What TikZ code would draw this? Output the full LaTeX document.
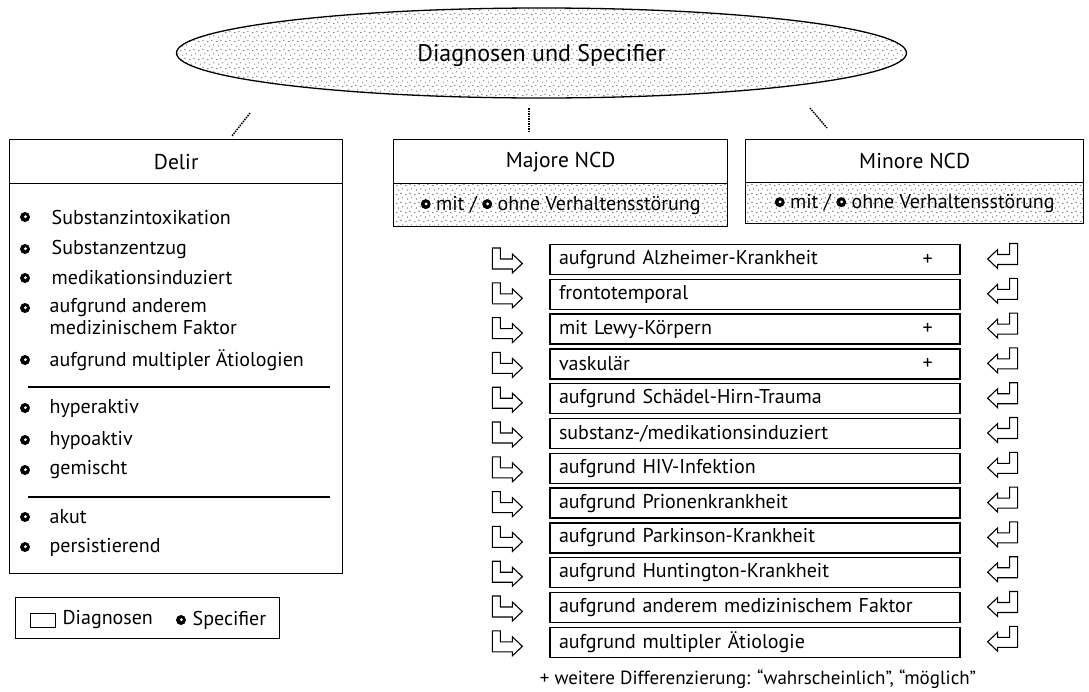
\documentclass[tikz,border=0pt]{standalone}
\usepackage{fontspec}
\setmainfont{PT Sans}
\usetikzlibrary{shapes.geometric,patterns,calc}

% sparse stipple used for the shaded areas
\pgfdeclarepatternformonly{sparsedots}{\pgfqpoint{0pt}{0pt}}{\pgfqpoint{9pt}{9pt}}{\pgfqpoint{9pt}{9pt}}{%
  \pgfpathcircle{\pgfqpoint{1pt}{1.5pt}}{0.6pt}
  \pgfpathcircle{\pgfqpoint{5.5pt}{3pt}}{0.6pt}
  \pgfpathcircle{\pgfqpoint{3pt}{6.5pt}}{0.6pt}
  \pgfpathcircle{\pgfqpoint{7.5pt}{7.8pt}}{0.6pt}
  \pgfusepath{fill}}

% specifier marker: black disc with a white spot
\newcommand\spcdot{\tikz[baseline=-0.6ex,x=1pt,y=1pt]{\fill (0,0) circle (5); \fill[white] (0.4,0.3) circle (1.6);}}

\begin{document}
\begin{tikzpicture}[x=1pt,y=-1pt,line width=1.3pt,
  box/.style={draw,rectangle,inner sep=0pt},
  shade/.style={pattern=sparsedots,pattern color=black!85},
  titlefont/.style={font=\fontsize{21.5}{24}\selectfont},
  itemfont/.style={font=\fontsize{20}{22}\selectfont},
  rowbox/.style={draw,rectangle,minimum width=410pt,minimum height=30pt,inner xsep=9pt,inner ysep=0pt,
    text width=392pt,align=left,font=\fontsize{20}{22}\selectfont},
  item/.style={anchor=west,inner sep=0pt,itemfont,align=left},
  marker/.style={circle,fill=black,minimum size=10pt,inner sep=0pt,
    path picture={\fill[white] ([xshift=0.4pt,yshift=0.3pt]path picture bounding box.center) circle (1.6pt);}},
  plus/.style={font=\fontsize{20}{22}\selectfont,inner sep=0pt},
  stub/.style={densely dotted,line width=1.5pt},
  arrowin/.pic={\draw[line width=1.1pt,line join=miter]
      (0,0) -- (8,0) -- (8,11) -- (20,11) -- (20,6) -- (30,15.5) -- (20,25) -- (20,21) -- (0,21) -- cycle;},
  arrowout/.pic={\draw[line width=1.1pt,line join=miter]
      (0,0) -- (-8,0) -- (-8,11) -- (-20,11) -- (-20,6) -- (-30,15.5) -- (-20,25) -- (-20,21) -- (0,21) -- cycle;}]

\useasboundingbox[fill=white] (0,0) rectangle (1089,691);

% top ellipse
\node[ellipse,draw,shade,minimum width=730pt,minimum height=90pt,inner sep=0pt] (top) at (541.5,53) {};
\node[font=\fontsize{24}{26}\selectfont] (toplabel) at (541.5,55) {Diagnosen und Specifier};

% short dotted connector stubs below the ellipse
\coordinate (s1a) at (250,113); \coordinate (s1b) at (232,136);
\coordinate (s2a) at (529,108); \coordinate (s2b) at (529,132);
\coordinate (s3a) at (810,108); \coordinate (s3b) at (827,128);
\draw[stub] (s1a) -- (s1b);
\draw[stub] (s2a) -- (s2b);
\draw[stub] (s3a) -- (s3b);

% Delir
\node[box,anchor=north west,minimum width=333pt,minimum height=44pt,titlefont] (delirhead) at (9,139) {Delir};
\node[box,anchor=north west,minimum width=333pt,minimum height=390pt] (delirbody) at (9,183) {};
\coordinate (d1a) at (28,387); \coordinate (d1b) at (330,387);
\coordinate (d2a) at (28,497); \coordinate (d2b) at (330,497);
\draw[line width=1.1pt] (d1a) -- (d1b);
\draw[line width=1.1pt] (d2a) -- (d2b);

\foreach \y/\n in {217/a,249/b,278/c,308/d,360/e,408/f,440/g,470/h,517/i,547/j}
  \node[marker] (m\n) at (25,\y) {};
\node[item] (ia) at (51,217) {Substanzintoxikation};
\node[item] (ib) at (51,249) {Substanzentzug};
\node[item] (ic) at (51,278) {medikationsinduziert};
\node[item,anchor=north west] (id) at (49,298) {aufgrund anderem\\medizinischem Faktor};
\node[item] (ie) at (49,360) {aufgrund multipler Ätiologien};
\node[item] (if) at (49,408) {hyperaktiv};
\node[item] (ig) at (49,440) {hypoaktiv};
\node[item] (ih) at (49,470) {gemischt};
\node[item] (ii) at (49,517) {akut};
\node[item] (ij) at (49,547) {persistierend};

% legend
\node[box,anchor=north west,minimum width=264pt,minimum height=41pt] (legend) at (15,597) {};
\node[box,line width=1.1pt,anchor=north west,minimum width=25pt,minimum height=14pt] (legrect) at (30,613) {};
\node[item] (legdiag) at (62,620) {Diagnosen};
\node[marker] (legmark) at (181,620) {};
\node[item] (legspec) at (192,620) {Specifier};

% Majore / Minore NCD
\node[box,anchor=north west,minimum width=334pt,minimum height=44pt,titlefont] (majhead) at (393,139) {Majore NCD};
\node[box,shade,anchor=north west,minimum width=334pt,minimum height=43pt] (majband) at (393,183) {};
\node[itemfont] (majspec) at (majband.center) {\spcdot{} mit / \spcdot{} ohne Verhaltensstörung};
\node[box,anchor=north west,minimum width=338pt,minimum height=43pt,titlefont] (minhead) at (745,139) {Minore NCD};
\node[box,shade,anchor=north west,minimum width=338pt,minimum height=41pt] (minband) at (745,182) {};
\node[itemfont] (minspec) at (minband.center) {\spcdot{} mit / \spcdot{} ohne Verhaltensstörung};

% subtypes
\node[rowbox] (r0) at (755,259.5) {aufgrund Alzheimer-Krankheit};
\node[rowbox] (r1) at (755,294.3) {frontotemporal};
\node[rowbox] (r2) at (755,329.1) {mit Lewy-Körpern};
\node[rowbox] (r3) at (755,363.9) {vaskulär};
\node[rowbox] (r4) at (755,398.7) {aufgrund Schädel-Hirn-Trauma};
\node[rowbox] (r5) at (755,433.5) {substanz-/medikationsinduziert};
\node[rowbox] (r6) at (755,468.3) {aufgrund HIV-Infektion};
\node[rowbox] (r7) at (755,503.1) {aufgrund Prionenkrankheit};
\node[rowbox] (r8) at (755,537.9) {aufgrund Parkinson-Krankheit};
\node[rowbox] (r9) at (755,572.7) {aufgrund Huntington-Krankheit};
\node[rowbox] (r10) at (755,607.5) {aufgrund anderem medizinischem Faktor};
\node[rowbox] (r11) at (755,642.3) {aufgrund multipler Ätiologie};

\foreach \k in {0,2,3}
  \node[plus] (p\k) at ($(r\k.east)+(-33,0)$) {+};

\foreach \k in {0,...,11}{
  \pic at ($(r\k.west)+(-57,-11.5)$) {arrowin};
  \pic at ($(r\k.east)+(57,-16)$) {arrowout};
}

% footnote
\node[font=\fontsize{19}{21}\selectfont,inner sep=0pt] (note) at (758,679) {+ weitere Differenzierung: “wahrscheinlich”, “möglich”};

\end{tikzpicture}
\end{document}
